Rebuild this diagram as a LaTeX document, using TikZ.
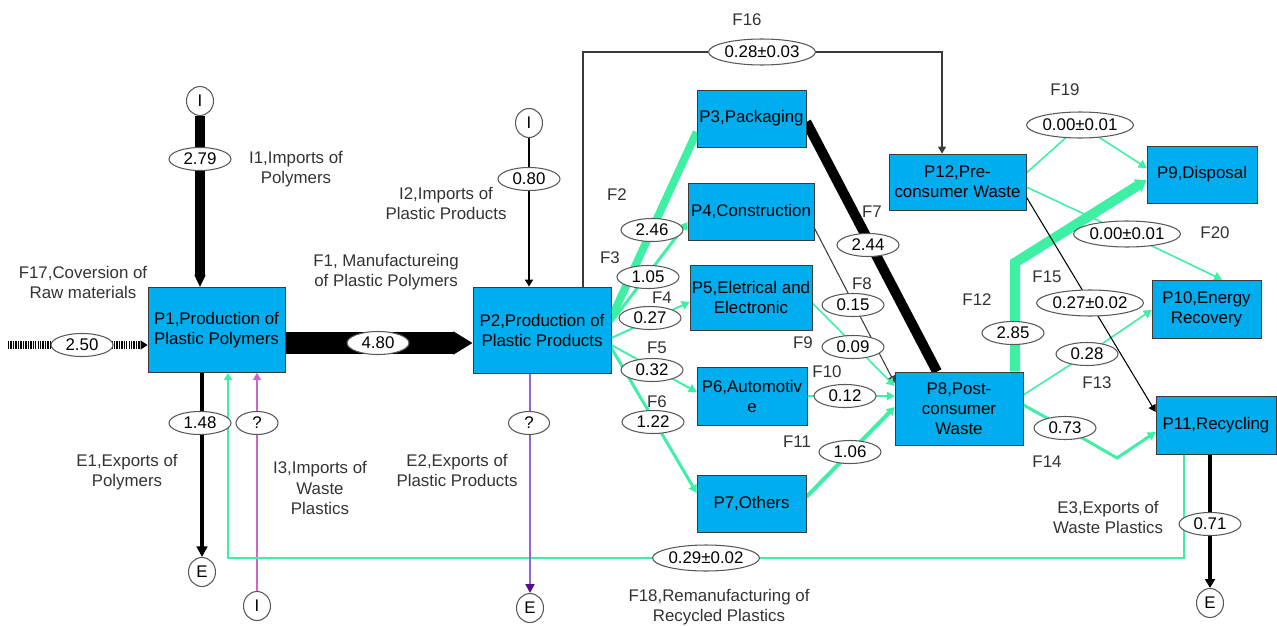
\documentclass[tikz,border=0pt]{standalone}
\usepackage{fontspec}
\setmainfont{Liberation Sans}
\usetikzlibrary{positioning, arrows.meta, calc, backgrounds, shapes.geometric}
\definecolor{boxblue}{HTML}{00AEEF}
\definecolor{boxline}{HTML}{3A3A3A}
\definecolor{flowgreen}{HTML}{3DF0A3}
\definecolor{muted}{HTML}{333333}
\definecolor{lilac}{HTML}{CC66CC}
\definecolor{exportpurple}{HTML}{9B5FD0}
\definecolor{darkviolet}{HTML}{5A0A8A}

\begin{document}
\begin{tikzpicture}[x=0.02cm, y=-0.02cm,
      every node/.style={align=center, font=\fontsize{9.6}{11.4}\selectfont},
      proc/.style 2 args={draw=boxline, fill=boxblue, inner sep=0pt, minimum width=#1cm, minimum height=#2cm},
      val/.style={draw=boxline!85, line width=0.6pt, fill=white, ellipse, inner sep=0pt, minimum width=1.24cm, minimum height=0.46cm},
      wideval/.style={val, minimum width=2.14cm, minimum height=0.52cm},
      ext/.style={draw=boxline!85, line width=0.6pt, fill=white, ellipse, inner sep=0pt, minimum width=0.54cm, minimum height=0.58cm},
      lbl/.style={text=muted, inner sep=0pt},
      tip/.style={-{Triangle[length=4pt, width=4.5pt]}},
      gflow/.style={draw=flowgreen, line width=#1, -{Triangle[length=4.5pt, width=5pt]}}]

    \useasboundingbox (0,0) rectangle (1277,625);

    \node[proc={2.74}{1.70}] (p1) at (216.5,330) {P1,Production of\\Plastic Polymers};
    \node[proc={2.76}{1.72}] (p2) at (542,330) {P2,Production of\\Plastic Products};
    \node[proc={2.18}{1.14}] (p3) at (751.5,118.5) {P3,Packaging};
    \node[proc={2.52}{1.14}] (p4) at (751,211.5) {P4,Construction};
    \node[proc={2.44}{1.30}] (p5) at (751,297.5) {P5,Eletrical and\\Electronic};
    \node[proc={2.20}{1.16}] (p6) at (752,396) {P6,Automotiv\\e};
    \node[proc={2.18}{1.14}] (p7) at (751.5,503.5) {P7,Others};
    \node[proc={2.56}{1.46}] (p8) at (959,408.5) {P8,Post-\\consumer\\Waste};
    \node[proc={2.74}{1.12}] (p12) at (957.5,182) {P12,Pre-\\consumer Waste};
    \node[proc={2.20}{1.14}] (p9) at (1202,174.5) {P9,Disposal};
    \node[proc={2.18}{1.16}] (p10) at (1206.5,309) {P10,Energy\\Recovery};
    \node[proc={2.40}{1.16}] (p11) at (1216,425) {P11,Recycling};

    \node[ext] (i1) at (200,101) {I};
    \node[ext] (i2) at (529,123) {I};
    \node[ext] (e1) at (202,572) {E};
    \node[ext] (i3) at (257,606) {I};
    \node[ext] (e2) at (530,608) {E};
    \node[ext] (e3) at (1210,603) {E};
    \coordinate (raw) at (8,345);

    \node[val] (v279) at (200,159) {2.79};
    \node[val] (v250) at (82,345) {2.50};
    \node[val] (v480) at (378,343) {4.80};
    \node[val] (v148) at (200,423) {1.48};
    \node[val, minimum width=0.84cm] (vq1) at (257,423) {?};
    \node[val] (v080) at (529,179) {0.80};
    \node[val, minimum width=0.82cm] (vq2) at (529,423) {?};
    \node[wideval] (v028a) at (762,52) {0.28±0.03};
    \node[val] (v246) at (652,230) {2.46};
    \node[val] (v105) at (648,277) {1.05};
    \node[val] (v027) at (650,318) {0.27};
    \node[val] (v032) at (652,370) {0.32};
    \node[val] (v122) at (653,422) {1.22};
    \node[val] (v244) at (868,245) {2.44};
    \node[val] (v015) at (853,305) {0.15};
    \node[val] (v009) at (853,347) {0.09};
    \node[val] (v012) at (845,396) {0.12};
    \node[val] (v106) at (850,452) {1.06};
    \node[val] (v285) at (1013,333) {2.85};
    \node[wideval] (v000a) at (1080,125) {0.00±0.01};
    \node[wideval] (v000b) at (1127,234) {0.00±0.01};
    \node[wideval] (v027b) at (1090,303) {0.27±0.02};
    \node[val] (v028) at (1087,354) {0.28};
    \node[val] (v073) at (1065,428) {0.73};
    \node[val] (v071) at (1210,524) {0.71};
    \node[wideval] (v029) at (706,558) {0.29±0.02};

    \node[lbl] (t-i1) at (296,169) {I1,Imports of\\Polymers};
    \node[lbl] (t-i2) at (446,203) {I2,Imports of\\Plastic Products};
    \node[lbl] (t-f17) at (83,282) {F17,Coversion of\\Raw materials};
    \node[lbl] (t-f1) at (386,272) {F1, Manufactureing\\of Plastic Polymers};
    \node[lbl] (t-e1) at (127,472) {E1,Exports of\\Polymers};
    \node[lbl] (t-i3) at (320,488) {I3,Imports of\\Waste\\Plastics};
    \node[lbl] (t-e2) at (457,470) {E2,Exports of\\Plastic Products};
    \node[lbl] (t-e3) at (1108,517) {E3,Exports of\\Waste Plastics};
    \node[lbl] (t-f18) at (719,607) {F18,Remanufacturing of\\Recycled Plastics};
    \node[lbl] (t-f2) at (617,195) {F2};
    \node[lbl] (t-f3) at (610,258) {F3};
    \node[lbl] (t-f4) at (662,298) {F4};
    \node[lbl] (t-f5) at (657,348) {F5};
    \node[lbl] (t-f6) at (657,402) {F6};
    \node[lbl] (t-f7) at (872,212) {F7};
    \node[lbl] (t-f8) at (862,284) {F8};
    \node[lbl] (t-f9) at (803,343) {F9};
    \node[lbl] (t-f10) at (827,372) {F10};
    \node[lbl] (t-f11) at (797,442) {F11};
    \node[lbl] (t-f12) at (977,300) {F12};
    \node[lbl] (t-f13) at (1097,383) {F13};
    \node[lbl] (t-f14) at (1047,462) {F14};
    \node[lbl] (t-f15) at (1047,277) {F15};
    \node[lbl] (t-f16) at (747,20) {F16};
    \node[lbl] (t-f19) at (1065,90) {F19};
    \node[lbl] (t-f20) at (1215,233) {F20};

    \begin{scope}[on background layer]
      \draw[line width=5.7pt, -{Triangle[length=7pt, width=6pt]}] (i1) -- (p1.north -| i1);
      \draw[line width=4.5pt, dash pattern=on 0.8pt off 0.6pt, -{Triangle[length=4pt, width=5pt]}] (raw) -- (p1.west |- raw);
      \draw[line width=12.5pt, -{Triangle[length=11pt, width=12.5pt]}] (p1.east |- v480) -- (p2.west |- v480);
      \draw[line width=2.8pt, -{Triangle[length=6pt, width=6pt]}] (p1.south -| e1) -- (e1);
      \draw[lilac, line width=0.6pt, tip] (i3) -- (p1.south -| i3);
      \draw[flowgreen, line width=1pt, tip] ($(p11.south)+(-32,0)$) |- (v029) -| ($(p1.south)+(11.5,0)$);
      \draw[line width=1.2pt, tip] (i2) -- (p2.north -| i2);
      \draw[exportpurple, line width=1.2pt, -{Triangle[length=5pt, width=5pt, color=darkviolet]}] (p2.south -| e2) -- (e2);
      \draw[boxline, line width=0.7pt, tip] ($(p2.north)+(41,0)$) |- (v028a) -| ($(p12.north)+(-15.5,0)$);

      \draw[flowgreen, line width=4.5pt] ($(p2.east)+(0,-12)$) -- ($(p3.west)+(0,13.5)$);
      \draw[gflow=1.7pt] ($(p2.east)+(0,-8)$) -- ($(p4.west)+(0,10.5)$);
      \draw[gflow=1.1pt] ($(p2.east)+(0,8)$) -- ($(p5.west)+(0,4.5)$);
      \draw[gflow=1.1pt] ($(p2.east)+(0,15)$) -- ($(p6.west)+(0,-4)$);
      \draw[gflow=1.7pt] ($(p2.east)+(0,18)$) -- ($(p7.west)+(0,-10.5)$);

      \draw[line width=5.7pt] ($(p3.east)+(0,3.5)$) -- ($(p8.north)+(-22,0)$);
      \draw[boxline, line width=0.6pt, tip] ($(p4.east)+(0,16.5)$) -- ($(p8.west)+(0,-25.5)$);
      \draw[gflow=0.9pt] ($(p5.east)+(0,5.5)$) -- ($(p8.west)+(0,-22.5)$);
      \draw[gflow=0.9pt] (p6.east) -- (p8.west |- p6.east);
      \draw[gflow=2.3pt] ($(p7.east)+(0,-6.5)$) -- ($(p8.west)+(0,-1.5)$);

      \draw[flowgreen, line width=5.7pt, -{Triangle[length=6pt, width=8pt]}] ($(p8.north)+(56,0)$) -- ($(p8.north)+(56,-109)$) -- ($(p9.west)+(0,5.5)$);
      \draw[gflow=0.9pt] ($(p8.east)+(0,-13.5)$) -- (v028.center) -- ($(p10.west)+(0,1)$);
      \draw[gflow=1.7pt] ($(p8.east)+(0,-3.5)$) -- (v073.center) -- ($(v073)+(52,30)$) -- ($(p11.west)+(0,7)$);
      \draw[line width=0.6pt, tip] ($(p12.east)+(0,15)$) -- ($(p11.west)+(0,-13)$);
      \draw[gflow=0.9pt] ($(p12.east)+(0,-9)$) -- (v000a.center) -- ($(p9.west)+(0,-6.5)$);
      \draw[gflow=0.9pt] ($(p12.east)+(0,5)$) -- (v000b.center) -- ($(p10.north)+(15.5,0)$);
      \draw[line width=2pt, -{Triangle[length=5pt, width=5.5pt]}] ($(p11.south)+(-6,0)$) -- (e3);
    \end{scope}
  \end{tikzpicture}
\end{document}
